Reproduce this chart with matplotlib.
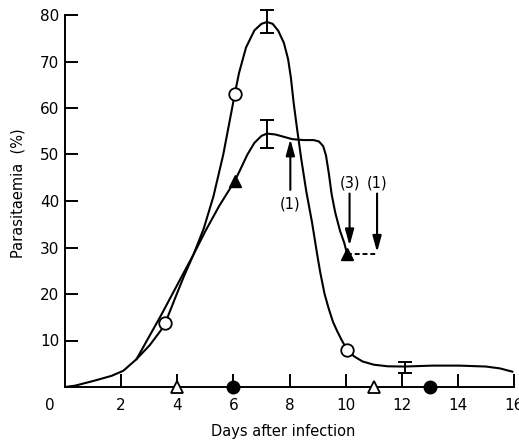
import matplotlib
matplotlib.use('Agg')
import matplotlib.pyplot as plt

# open-circle curve (higher peak)
circ_x = [0, 0.37, 1.07, 1.66, 2.08, 2.55, 3.02, 3.43, 3.57, 3.95, 4.23, 4.58, 4.94,
          5.29, 5.64, 5.94, 6.05, 6.2, 6.45, 6.75, 7.0, 7.2, 7.4, 7.6, 7.8, 7.95,
          8.05, 8.15, 8.27, 8.42, 8.6, 8.8, 9.0, 9.1, 9.25, 9.4, 9.55, 9.7, 9.85,
          10.05, 10.3, 10.6, 11.0, 11.5, 12.1, 13.1, 14.05, 15.0, 15.5, 15.94]
circ_y = [0, 0.3, 1.4, 2.4, 3.5, 6.0, 9.0, 12.3, 13.7, 19.5, 23.7, 28.5, 34.0,
          41.0, 50.0, 59.5, 63.0, 67.5, 73.0, 76.7, 78.1, 78.5, 78.1, 76.6, 74.0, 70.5,
          66.5, 61.0, 55.5, 49.0, 42.0, 35.5, 28.0, 24.5, 20.0, 16.8, 14.0, 12.0, 10.2,
          8.0, 6.6, 5.5, 4.8, 4.45, 4.4, 4.6, 4.6, 4.4, 4.0, 3.3]
circ_mx = [3.57, 6.05, 10.05]
circ_my = [13.7, 63.0, 8.0]

# filled-triangle curve
tri_x = [2.55, 3.43, 4.11, 4.58, 5.0, 5.5, 6.05, 6.25, 6.5, 6.75, 7.0, 7.2, 7.5,
         7.8, 8.1, 8.5, 8.86, 9.05, 9.2, 9.3, 9.4, 9.5, 9.63, 9.8, 9.95, 10.05]
tri_y = [6.0, 15.5, 23.2, 28.5, 33.5, 39.0, 44.3, 46.8, 50.0, 52.5, 54.0, 54.5, 54.3,
         53.8, 53.3, 53.1, 53.1, 52.8, 51.8, 49.8, 46.0, 41.5, 37.5, 33.6, 31.0, 28.7]
tri_mx = [6.05, 10.05]
tri_my = [44.3, 28.7]

# error bars
err_x = [7.2, 7.2, 12.1]
err_y = [78.6, 54.4, 4.25]
err_e = [2.4, 3.0, 1.15]

# symbols on the x axis
open_tri_days = [4, 11]
filled_circ_days = [6, 13]

# arrows: (label, x, tail y, tip y, label y)
arrows = [('(1)', 8.03, 42.4, 53.3, 39.4),
          ('(3)', 10.14, 41.6, 30.4, 43.8),
          ('(1)', 11.12, 41.6, 29.0, 43.8)]

fig = plt.figure(figsize=(5.19, 4.42), dpi=100)
ax = fig.add_axes([65 / 519, 55 / 442, 449 / 519, 372 / 442])

lw = 1.5
ax.plot(circ_x, circ_y, color='black', lw=lw, solid_joinstyle='round')
ax.plot(tri_x, tri_y, color='black', lw=lw, solid_joinstyle='round')
ax.plot(circ_mx, circ_my, 'o', ms=9, mfc='white', mec='black', mew=1.3)
ax.plot(tri_mx, tri_my, '^', ms=9, color='black')

eb = ax.errorbar(err_x, err_y, yerr=err_e, fmt='none', ecolor='black',
                 elinewidth=1.4, capsize=4.7, capthick=1.4)
for part in eb.lines:
    for a in (part if isinstance(part, tuple) else [part]):
        if a is not None:
            a.set_clip_on(False)

ax.plot(open_tri_days, [0] * len(open_tri_days), '^', ms=9, mfc='white',
        mec='black', mew=1.3, clip_on=False, zorder=5)
ax.plot(filled_circ_days, [0] * len(filled_circ_days), 'o', ms=9,
        color='black', clip_on=False, zorder=5)

# dashed link from the day-10 triangle
ax.plot([tri_mx[-1], arrows[2][1]], [tri_my[-1], tri_my[-1]], color='black',
        lw=1.4, ls=(0, (2.5, 1.5)))

for label, x, tail, tip, ly in arrows:
    ax.annotate('', xy=(x, tip), xytext=(x, tail),
                arrowprops=dict(arrowstyle='-|>,head_length=0.8,head_width=0.22',
                                lw=1.5, color='black', shrinkA=0, shrinkB=0,
                                mutation_scale=12))
    ax.text(x, ly, label, ha='center', va='center', fontsize=10.5)

ax.set_xlim(0, 16)
ax.set_ylim(0, 80)
ax.spines['top'].set_visible(False)
ax.spines['right'].set_visible(False)
ax.spines['left'].set_linewidth(1.4)
ax.spines['bottom'].set_linewidth(1.4)

ax.set_xticks(range(2, 17, 2))
ax.set_yticks(range(10, 81, 10))
ax.tick_params(axis='both', direction='in', length=9.5, width=1.4, labelsize=11)
ax.tick_params(axis='x', pad=8)
ax.tick_params(axis='y', pad=4)
fig.text(50 / 519, 1 - 405 / 442, '0', ha='center', va='center', fontsize=11)

ax.set_xlabel('Days after infection', fontsize=10.5)
ax.xaxis.set_label_coords(0.485, -0.1)
ax.set_ylabel('Parasitaemia  (%)', fontsize=10.5)
ax.yaxis.set_label_coords(-0.088, 0.52)

fig.savefig('out.png', dpi=100)
